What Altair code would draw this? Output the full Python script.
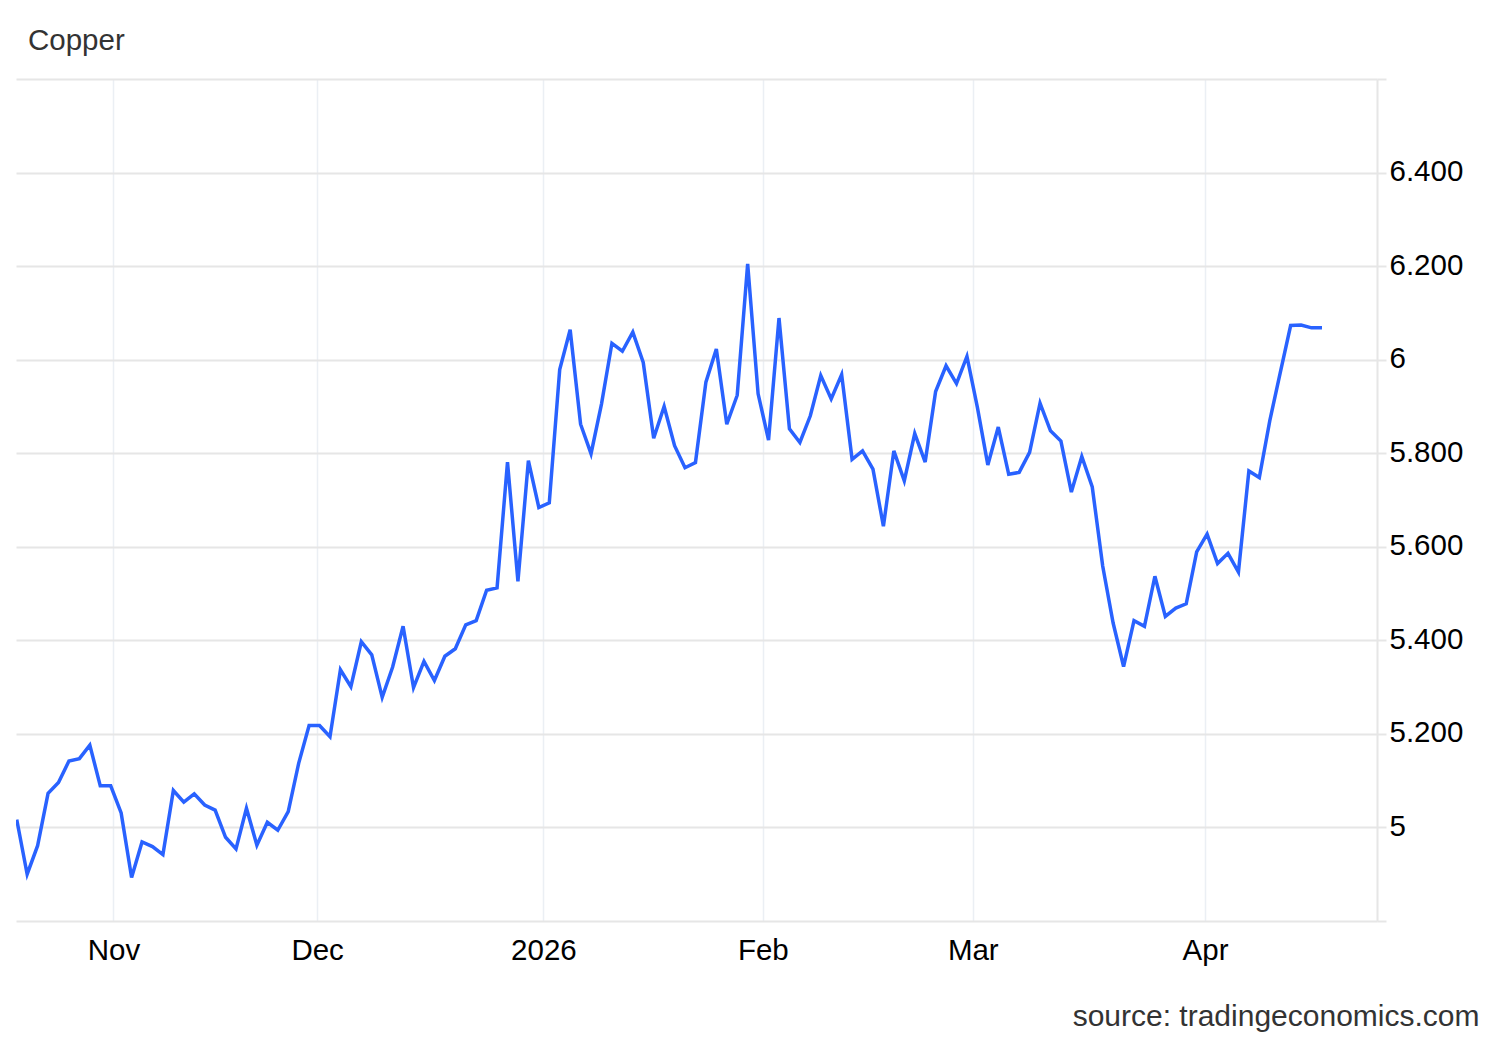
import altair as alt
import pandas as pd

# Copper price, one value per trading session
prices = [
    5.017, 4.900, 4.961, 5.073, 5.096, 5.142, 5.147, 5.176, 5.089, 5.089,
    5.031, 4.893, 4.969, 4.959, 4.942, 5.079, 5.054, 5.072, 5.048, 5.037,
    4.979, 4.954, 5.041, 4.962, 5.011, 4.994, 5.034, 5.137, 5.218, 5.218,
    5.194, 5.337, 5.301, 5.397, 5.369, 5.278, 5.343, 5.430, 5.299, 5.355,
    5.314, 5.366, 5.382, 5.433, 5.442, 5.507, 5.512, 5.781, 5.526, 5.784,
    5.684, 5.694, 5.979, 6.064, 5.862, 5.799, 5.905, 6.035, 6.018, 6.059,
    5.994, 5.832, 5.900, 5.816, 5.769, 5.780, 5.952, 6.023, 5.862, 5.924,
    6.205, 5.927, 5.828, 6.089, 5.852, 5.823, 5.880, 5.966, 5.916, 5.968,
    5.787, 5.805, 5.766, 5.644, 5.805, 5.741, 5.842, 5.781, 5.932, 5.987,
    5.949, 6.007, 5.898, 5.775, 5.856, 5.755, 5.759, 5.802, 5.907, 5.848,
    5.826, 5.717, 5.793, 5.728, 5.559, 5.437, 5.344, 5.442, 5.430, 5.537,
    5.451, 5.469, 5.478, 5.589, 5.627, 5.564, 5.586, 5.546, 5.762, 5.748,
    5.869, 5.972, 6.073, 6.074, 6.068, 6.068,
]
session = list(range(len(prices)))

# month boundaries expressed in session units (ordinal time axis)
month_pos = [9.26, 28.77, 50.44, 71.45, 91.56, 113.80]
month_labels = ["Nov", "Dec", "2026", "Feb", "Mar", "Apr"]

y_ticks = [4.8, 5.0, 5.2, 5.4, 5.6, 5.8, 6.0, 6.2, 6.4, 6.6]
x_domain = [-0.07, 130.27]
y_domain = [4.8, 6.6]

title_text = ["Copper"]
source_text = ["source: tradingeconomics.com"]

df = pd.DataFrame({"session": session, "price": prices})

FONT = "Liberation Sans, Arial, sans-serif"
FS = 29.5

# label expression for month ticks built from the arrays
expr = "''"
for p, lab in reversed(list(zip(month_pos, month_labels))):
    expr = f"abs(datum.value - {p}) < 0.01 ? '{lab}' : ({expr})"

y_label_expr = (
    "(datum.value < 4.81 || datum.value > 6.59) ? '' : "
    "(abs(datum.value - round(datum.value)) < 0.001 ? format(datum.value, 'd') "
    ": format(datum.value, '.3f'))"
)

line = alt.Chart(df).mark_line(color="#2962ff", strokeWidth=3.5, clip=True).encode(
    x=alt.X(
        "session:Q",
        scale=alt.Scale(domain=x_domain, nice=False, zero=False),
        axis=alt.Axis(
            values=month_pos,
            labelExpr=expr,
            title=None,
            grid=True,
            gridColor="#ebeff4",
            gridWidth=1.5,
            domain=False,
            ticks=False,
            tickSize=0,
            labelPadding=38.5,
            labelBaseline="alphabetic",
            labelFont=FONT,
            labelFontSize=FS,
            labelColor="#000000",
            labelFlush=False,
            labelOverlap=False,
            labelBound=False,
        ),
    ),
    y=alt.Y(
        "price:Q",
        scale=alt.Scale(domain=y_domain, nice=False, zero=False),
        axis=alt.Axis(
            orient="right",
            values=y_ticks,
            labelExpr=y_label_expr,
            title=None,
            grid=True,
            gridColor="#e6e6e6",
            gridWidth=2,
            domain=True,
            domainColor="#e6e6e6",
            domainWidth=2,
            ticks=True,
            tickColor="#e6e6e6",
            tickWidth=2,
            tickSize=9,
            labelPadding=3,
            labelBaseline="alphabetic",
            labelOffset=8,
            labelAlign="left",
            labelFont=FONT,
            labelFontSize=FS,
            labelColor="#000000",
            labelFlush=False,
            labelOverlap=False,
            labelBound=False,
        ),
    ),
)

title = alt.Chart(pd.DataFrame({"t": title_text})).mark_text(
    align="left", baseline="alphabetic", font=FONT, fontSize=FS, color="#333333"
).encode(text="t:N", x=alt.value(12), y=alt.value(-29.5))

source = alt.Chart(pd.DataFrame({"t": source_text})).mark_text(
    align="right", baseline="alphabetic", font=FONT, fontSize=30, color="#333333"
).encode(text="t:N", x=alt.value(1463.5), y=alt.value(946.5))

chart = (
    alt.layer(line, title, source)
    .properties(
        width=1361,
        height=842,
        autosize=alt.AutoSizeParams(type="none"),
        padding={"left": 8, "top": 71, "right": 115, "bottom": 111},
        background="white",
    )
    .configure_view(strokeWidth=0)
)

chart.save("out.html", embed_options={"renderer": "svg", "actions": False})
